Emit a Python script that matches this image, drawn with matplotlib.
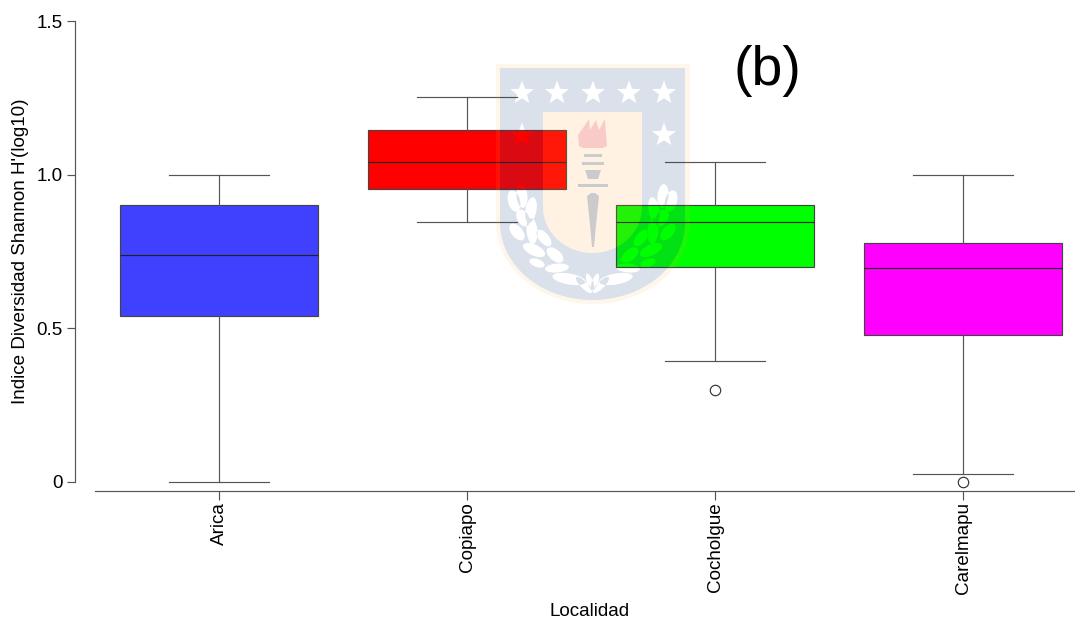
import numpy as np
import matplotlib
matplotlib.use('Agg')
import matplotlib.pyplot as plt
from matplotlib.path import Path
from matplotlib.patches import PathPatch
from matplotlib.transforms import Affine2D

plt.rcParams['font.family'] = ['Liberation Sans', 'DejaVu Sans']

W, H = 1075, 624

localidades = ['Arica', 'Copiapo', 'Cocholgue', 'Carelmapu']
q1 = [0.54, 0.953, 0.70, 0.478]
mediana = [0.739, 1.041, 0.846, 0.696]
q3 = [0.90, 1.145, 0.90, 0.778]
whisker_lo = [0.0, 0.846, 0.394, 0.026]
whisker_hi = [1.0, 1.253, 1.041, 1.0]
outliers = [[], [], [0.30], [0.0]]
box_colors = ['#4040ff', '#ff0000', '#00ff00', '#ff00ff']
y_ticks = [0, 0.5, 1.0, 1.5]
y_labels = ['0', '0.5', '1.0', '1.5']

LINE = '#555555'
FS = 13.6

fig = plt.figure(figsize=(W / 100, H / 100), dpi=100)
ax = fig.add_axes([95 / W, 1 - 491 / H, 980 / W, 470 / H])

stats = []
for i, name in enumerate(localidades):
    stats.append({'label': name, 'q1': q1[i], 'med': mediana[i], 'q3': q3[i],
                  'whislo': whisker_lo[i], 'whishi': whisker_hi[i], 'fliers': outliers[i]})

bp = ax.bxp(stats, positions=[1, 2, 3, 4], widths=0.802, capwidths=0.403, patch_artist=True,
            whiskerprops=dict(color=LINE, lw=0.85),
            capprops=dict(color=LINE, lw=0.85),
            boxprops=dict(edgecolor='#444444', lw=0.85),
            medianprops=dict(color='#222222', lw=0.85),
            flierprops=dict(marker='o', markersize=7.5, markerfacecolor='white',
                            markeredgecolor='#333333', markeredgewidth=0.85))
for patch, color in zip(bp['boxes'], box_colors):
    patch.set_facecolor(color)

ax.set_xlim(0.5, 1 + (1075 - 219) / 248)
ax.set_ylim(-9 / 307.3, 1.5)

for side in ['top', 'right']:
    ax.spines[side].set_visible(False)
ax.spines['left'].set_position(('outward', 14.4))
ax.spines['left'].set_bounds(0, 1.5)
for side in ['left', 'bottom']:
    ax.spines[side].set_color(LINE)
    ax.spines[side].set_linewidth(0.85)

ax.set_yticks(y_ticks)
ax.set_yticklabels(y_labels)
ax.set_xticks([1, 2, 3, 4])
ax.set_xticklabels(localidades, rotation=90)
ax.tick_params(axis='y', length=6, width=0.85, color=LINE, labelsize=FS, pad=3)
ax.tick_params(axis='x', length=6.5, width=0.85, color=LINE, labelsize=FS, pad=1.5)

ax.set_xlabel('Localidad', fontsize=FS, va='center')
ax.xaxis.set_label_coords((590 - 95) / 980, -(611 - 491) / 470)
ax.set_ylabel("Indice Diversidad Shannon H'(log10)", fontsize=FS, va='center')
ax.yaxis.set_label_coords((21 - 95) / 980, (491 - 251) / 470)

fig.text(767 / W, 1 - 71 / H, '(b)', fontsize=40, ha='center', va='center', color='#000000')

# watermark crest sits on top of the chart, in pixel coordinates of the picture
px = Affine2D().scale(1, -1).translate(0, H)


def oriented(pts, ccw):
    pts = np.asarray(pts, dtype=float)
    x, y = pts[:, 0], pts[:, 1]
    area = np.sum(x * np.roll(y, -1) - np.roll(x, -1) * y)
    if (area > 0) != ccw:
        pts = pts[::-1]
    return pts


def star(cx, cy, r=12.5):
    a = np.deg2rad(np.arange(10) * 36 - 90)
    rr = np.where(np.arange(10) % 2 == 0, r, r * 0.42)
    return np.column_stack([cx + rr * np.cos(a), cy + rr * np.sin(a)])


def leaf(cx, cy, length, width, angle):
    t = np.linspace(0, 2 * np.pi, 24, endpoint=False)
    x = length / 2 * np.cos(t)
    y = width / 2 * np.sin(t)
    a = np.deg2rad(angle)
    return np.column_stack([cx + x * np.cos(a) - y * np.sin(a), cy + x * np.sin(a) + y * np.cos(a)])


def shield(left, right, top, straight_to, bottom):
    cx = (left + right) / 2
    t = np.linspace(0, np.pi, 40)
    arc = np.column_stack([cx + (right - cx) * np.cos(t), straight_to + (bottom - straight_to) * np.sin(t)])
    return np.vstack([[[left, top], [right, top]], arc])


def compound(rings):
    verts, codes = [], []
    for i, ring in enumerate(rings):
        ring = oriented(ring, i == 0)
        verts.extend(ring.tolist())
        verts.append(ring[0].tolist())
        codes.extend([Path.MOVETO] + [Path.LINETO] * (len(ring) - 1) + [Path.CLOSEPOLY])
    return Path(verts, codes)


def add_crest(rings, color, alpha, z=10):
    fig.add_artist(PathPatch(compound(rings), transform=px, facecolor=color, edgecolor='none',
                             alpha=alpha, zorder=z))


outer = shield(496, 690, 64, 223, 304)
blue = shield(500, 685, 68, 223, 300)
panel = shield(543, 642, 112, 207, 253)

star_x = [522, 557, 593, 629, 664]
holes = [star(x, 93) for x in star_x] + [star(522, 135), star(664, 135)]

# laurel leaves, left side; the right side is mirrored about the crest axis
left_leaves = [(514, 201, 22, 12, 75), (522, 196, 24, 11, 85), (531, 210, 26, 11, 100),
               (523, 218, 18, 12, 60), (532, 231, 26, 11, 85), (517, 232, 20, 11, 50),
               (544, 238, 20, 10, 50), (534, 250, 24, 11, 25), (555, 255, 20, 11, 40),
               (537, 263, 16, 8, 20), (557, 268, 24, 9, -5), (569, 279, 34, 11, 10),
               (584, 285, 22, 7, 45), (590, 282, 18, 6, 70)]
axis_x = 592.5
for cx, cy, l, w, ang in left_leaves:
    holes.append(leaf(cx, cy, l, w, ang))
    holes.append(leaf(2 * axis_x - cx, cy, l, w, 180 - ang))

add_crest([outer, blue], '#ffa83c', 0.10)
add_crest([blue, panel] + holes, '#13407f', 0.157)
add_crest([panel], '#ffa83c', 0.14)

# torch
flame = np.array([[579, 146], [578, 135], [583, 128], [589, 119], [590, 130], [596, 120], [599, 130],
                  [605, 119], [606, 135], [607, 146], [603, 148], [583, 148]])
add_crest([flame], '#e0305f', 0.20, z=11)
torch_parts = [
    [[584, 154], [602, 154], [602, 157], [584, 157]],
    [[582, 162], [604, 162], [604, 165], [582, 165]],
    [[585, 170], [601, 170], [598, 179], [588, 179]],
    [[578, 184], [608, 184], [608, 187], [578, 187]],
    [[587, 196], [591, 193], [595, 193], [599, 196], [596, 225], [594, 247], [592, 247], [590, 225]],
]
for part in torch_parts:
    add_crest([part], '#13407f', 0.22, z=11)

fig.savefig('out.png', dpi=100)
